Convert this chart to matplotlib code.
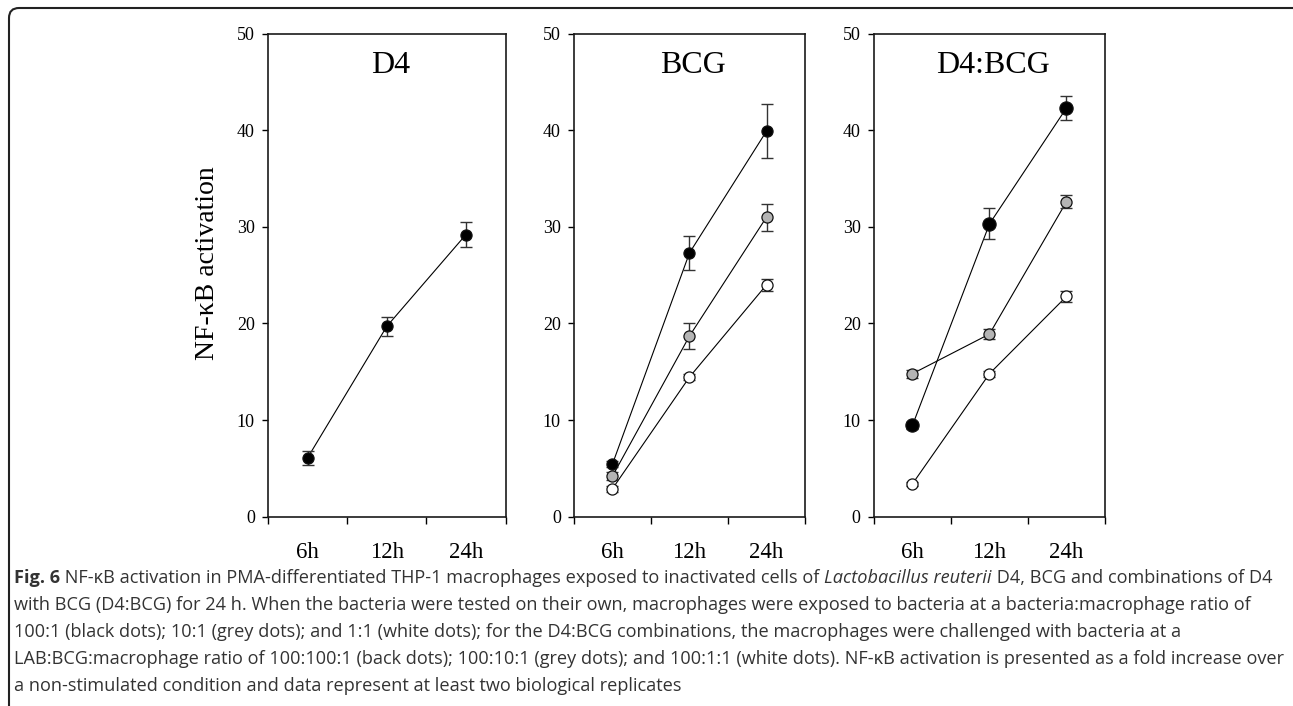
import matplotlib
matplotlib.use("Agg")
import matplotlib.pyplot as plt
import matplotlib.patches as mpatches
from matplotlib.transforms import IdentityTransform

# data (fold increase, mean and error)
times = ["6h", "12h", "24h"]
x = [1, 2, 3]

d4_black = [6.1, 19.7, 29.2]
d4_black_err = [0.7, 1.0, 1.3]

bcg_black = [5.45, 27.3, 39.9]
bcg_black_err = [0.3, 1.8, 2.8]
bcg_grey = [4.2, 18.7, 31.0]
bcg_grey_err = [0.4, 1.3, 1.4]
bcg_white = [2.9, 14.45, 24.0]
bcg_white_err = [0.3, 0.3, 0.6]

mix_black = [9.45, 30.3, 42.3]
mix_black_err = [0.4, 1.6, 1.2]
mix_grey = [14.8, 18.9, 32.6]
mix_grey_err = [0.4, 0.5, 0.7]
mix_white = [3.4, 14.8, 22.8]
mix_white_err = [0.2, 0.3, 0.6]

titles = ["D4", "BCG", "D4:BCG"]

serif = "Liberation Serif"
fig = plt.figure(figsize=(12.93, 7.06), dpi=100)

boxes = [[0.2073, 0.2681, 0.1837, 0.6844],
         [0.4439, 0.2681, 0.1787, 0.6844],
         [0.6759, 0.2681, 0.1787, 0.6844]]

panels = [
    [(d4_black, d4_black_err, "black", 8)],
    [(bcg_black, bcg_black_err, "black", 8),
     (bcg_grey, bcg_grey_err, "#b4b4b4", 8),
     (bcg_white, bcg_white_err, "white", 8)],
    [(mix_black, mix_black_err, "black", 9.5),
     (mix_grey, mix_grey_err, "#b4b4b4", 8),
     (mix_white, mix_white_err, "white", 8)],
]

for i in range(3):
    ax = fig.add_axes(boxes[i])
    for vals, err, col, ms in panels[i]:
        ax.errorbar(x, vals, yerr=err, fmt="none", ecolor="#333333",
                    elinewidth=1.0, capsize=4, capthick=1.0, zorder=2)
        ax.plot(x, vals, color="black", lw=0.8, zorder=1)
        ax.plot(x, vals, "o", ms=ms, mfc=col, mec="#111111", mew=0.9, zorder=3)
    ax.set_xlim(0.5, 3.5)
    ax.set_ylim(0, 50)
    ax.set_yticks([0, 10, 20, 30, 40, 50])
    ax.set_xticks(x)
    ax.set_xticklabels(times, fontfamily=serif, fontsize=16.5)
    ax.set_xticks([0.5, 1.5, 2.5, 3.5], minor=True)
    ax.tick_params(axis="x", which="major", length=0, pad=18)
    ax.tick_params(axis="x", which="minor", length=5, width=1.0, direction="out")
    ax.tick_params(axis="y", length=4.5, width=1.0, direction="out", pad=5,
                   labelsize=13)
    for lab in ax.get_yticklabels():
        lab.set_fontfamily(serif)
    for sp in ax.spines.values():
        sp.set_linewidth(1.2)
        sp.set_color("#1a1a1a")
    ax.text(0.515, 0.933, titles[i], transform=ax.transAxes, ha="center",
            va="center", fontfamily=serif, fontsize=23)

fig.text(207 / 1293, 0.627, "NF-\u03baB activation", rotation=90, ha="center",
         va="center", fontfamily=serif, fontsize=20)

# rounded caption frame
frame = mpatches.FancyBboxPatch((9, -12), 1300, 710, boxstyle="round,pad=0,rounding_size=10",
                                transform=IdentityTransform(), fill=False,
                                ec="#222222", lw=1.5)
fig.patches.append(frame)

# caption, written run by run
caption = [
    [("Fig. 6", "bold", "normal"),
     (" NF-\u03baB activation in PMA-differentiated THP-1 macrophages exposed to inactivated cells of ", "normal", "normal"),
     ("Lactobacillus reuterii", "normal", "italic"),
     (" D4, BCG and combinations of D4", "normal", "normal")],
    [("with BCG (D4:BCG) for 24 h. When the bacteria were tested on their own, macrophages were exposed to bacteria at a bacteria:macrophage ratio of", "normal", "normal")],
    [("100:1 (black dots); 10:1 (grey dots); and 1:1 (white dots); for the D4:BCG combinations, the macrophages were challenged with bacteria at a", "normal", "normal")],
    [("LAB:BCG:macrophage ratio of 100:100:1 (back dots); 100:10:1 (grey dots); and 100:1:1 (white dots). NF-\u03baB activation is presented as a fold increase over", "normal", "normal")],
    [("a non-stimulated condition and data represent at least two biological replicates", "normal", "normal")],
]
line_y = [578, 605, 632, 659, 686]

fig.canvas.draw()
renderer = fig.canvas.get_renderer()
cap_size = 13.1
for runs, yy in zip(caption, line_y):
    xpos = 14
    for txt, wt, st in runs:
        t = fig.text(xpos / 1293, 1 - yy / 706, txt, ha="left", va="center",
                     fontfamily="Open Sans", fontsize=cap_size, fontweight=wt,
                     fontstyle=st, color="#333333")
        bb = t.get_window_extent(renderer)
        xpos += bb.width

fig.savefig("out.png", dpi=100)
